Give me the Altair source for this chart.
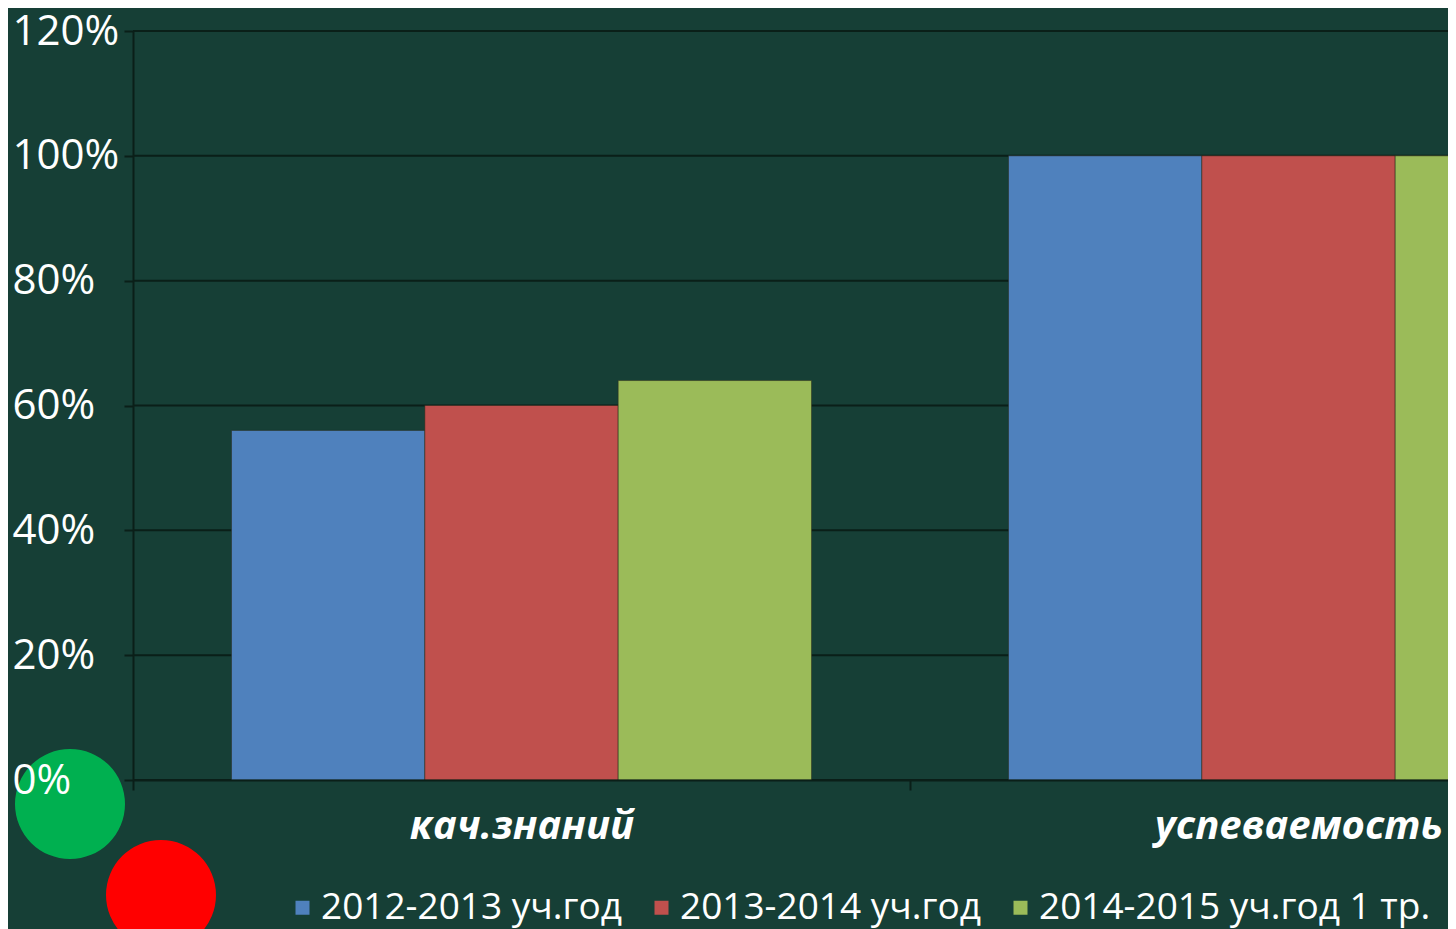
import altair as alt
import pandas as pd

categories = ["кач.знаний", "успеваемость"]
series = ["2012-2013 уч.год", "2013-2014 уч.год", "2014-2015 уч.год 1 тр."]
kach_values = [0.56, 0.60, 0.64]
usp_values = [1.00, 1.00, 1.00]
colors = ["#4F81BD", "#C0504D", "#9BBB59"]
y_ticks = [0.0, 0.2, 0.4, 0.6, 0.8, 1.0, 1.2]

rows = []
for s, v in zip(series, kach_values):
    rows.append({"cat": categories[0], "series": s, "value": v})
for s, v in zip(series, usp_values):
    rows.append({"cat": categories[1], "series": s, "value": v})
df = pd.DataFrame(rows)
grid_df = pd.DataFrame({"value": y_ticks})

BG = "#163F36"
LINE = "#0a1f18"

yscale = alt.Scale(domain=[0, 1.2], nice=False, zero=True)
yaxis = alt.Axis(
    title=None, values=y_ticks, format=".0%", grid=False,
    labelFont="Open Sans", labelFontSize=42, labelColor="white",
    labelAlign="left", labelBaseline="middle", labelPadding=112,
    tickSize=9, tickWidth=2, tickColor=LINE,
    domainColor=LINE, domainWidth=2, zindex=1, labelOverlap=False,
)

grid = alt.Chart(grid_df).mark_rule(color=LINE, strokeWidth=2).encode(
    y=alt.Y("value:Q", scale=yscale, axis=yaxis)
)

bars = alt.Chart(df).mark_bar(stroke="#2a2a1a", strokeWidth=1, strokeOpacity=0.5).encode(
    x=alt.X(
        "cat:N", sort=categories,
        scale=alt.Scale(range=[0, 1554], paddingInner=0.2535, paddingOuter=0.12675),
        axis=alt.Axis(
            title=None, labelAngle=0, labelFont="Open Sans", labelFontSize=40,
            labelFontWeight="bold", labelFontStyle="italic", labelColor="white",
            labelPadding=16, labelLimit=600, tickSize=10,
            tickOffset=-388.5, labelOffset=388.5,
            tickWidth=2, tickColor=LINE, domainColor=LINE, domainWidth=2, zindex=1,
        ),
    ),
    xOffset=alt.XOffset("series:N", sort=series, scale=alt.Scale(paddingInner=0, paddingOuter=0)),
    y=alt.Y("value:Q", scale=yscale, axis=yaxis),
    color=alt.Color(
        "series:N", sort=series,
        scale=alt.Scale(domain=series, range=colors),
        legend=alt.Legend(
            title=None, orient="none", legendX=151, legendY=858,
            direction="horizontal", symbolType="square", symbolSize=196,
            symbolStrokeWidth=0, labelFont="Open Sans", labelFontSize=37,
            labelColor="white", labelLimit=600, labelOffset=0, columnPadding=21,
        ),
    ),
)

green_circle = alt.Chart(pd.DataFrame({"a": [0]})).mark_circle(
    color="#00B050", opacity=1, size=12100
).encode(x=alt.value(-63), y=alt.value(773))

red_circle = alt.Chart(pd.DataFrame({"a": [0]})).mark_circle(
    color="#FF0000", opacity=1, size=12100
).encode(x=alt.value(28), y=alt.value(864))

chart = alt.layer(grid, bars, green_circle, red_circle).properties(
    width=1315, height=749,
    background=BG,
    autosize=alt.AutoSizeParams(type="none"),
    padding={"left": 125, "top": 23, "right": 0, "bottom": 149},
).configure_view(stroke=None)

chart.save("out.html", embed_options={"renderer": "svg", "actions": False})
